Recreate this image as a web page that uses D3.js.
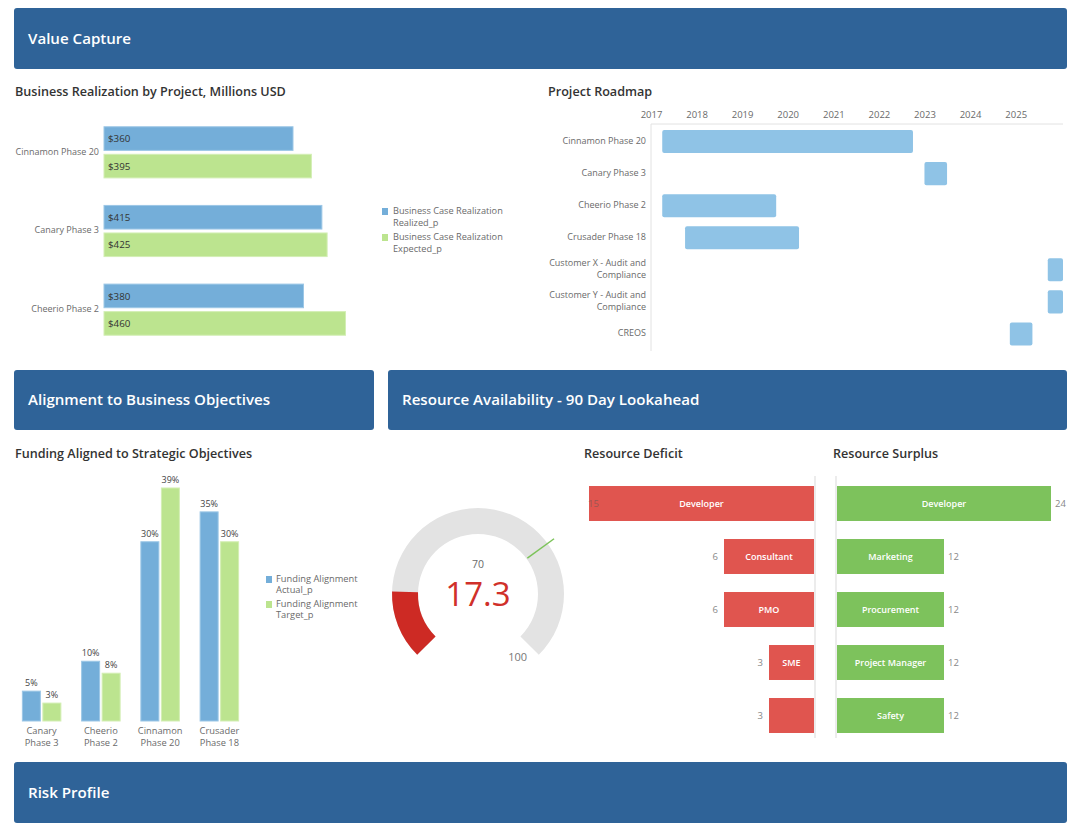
<!DOCTYPE html>
<html>
<head>
<meta charset="utf-8">
<script src="https://cdn.jsdelivr.net/npm/d3@7"></script>
<style>
  html, body { margin: 0; padding: 0; background: #ffffff; }
  svg { display: block; font-family: "Open Sans", "Noto Sans", sans-serif; }
</style>
</head>
<body>
<svg id="chart" width="1086" height="830"></svg>
<script>
// ---------- DATA ----------
const sectionTitles = ["Value Capture", "Alignment to Business Objectives", "Resource Availability - 90 Day Lookahead", "Risk Profile"];

const realizationProjects = ["Cinnamon Phase 20", "Canary Phase 3", "Cheerio Phase 2"];
const realizedValues = [360, 415, 380];
const expectedValues = [395, 425, 460];
const realizationLegend = [["Business Case Realization", "Realized_p"], ["Business Case Realization", "Expected_p"]];

const roadmapProjects = ["Cinnamon Phase 20", "Canary Phase 3", "Cheerio Phase 2", "Crusader Phase 18", "Customer X - Audit and|Compliance", "Customer Y - Audit and|Compliance", "CREOS"];
const roadmapStart = ["2017-04-01", "2023-01-01", "2017-04-01", "2017-10-01", "2025-09-15", "2025-09-15", "2024-11-15"];
const roadmapEnd   = ["2022-10-01", "2023-07-01", "2019-10-01", "2020-04-01", "2026-01-15", "2026-01-15", "2025-05-15"];
const roadmapYears = [2017, 2018, 2019, 2020, 2021, 2022, 2023, 2024, 2025];

const fundingProjects = ["Canary|Phase 3", "Cheerio|Phase 2", "Cinnamon|Phase 20", "Crusader|Phase 18"];
const fundingActual = [5, 10, 30, 35];
const fundingTarget = [3, 8, 39, 30];
const fundingLegend = [["Funding Alignment", "Actual_p"], ["Funding Alignment", "Target_p"]];

const gaugeValue = 17.3;
const gaugeTarget = 70;
const gaugeMax = 100;

const deficitRoles = ["Developer", "Consultant", "PMO", "SME", ""];
const deficitValues = [15, 6, 6, 3, 3];
const surplusRoles = ["Developer", "Marketing", "Procurement", "Project Manager", "Safety"];
const surplusValues = [24, 12, 12, 12, 12];

// ---------- STYLE ----------
const HEADER = "#2f6398";
const BLUE = "#74aed9";
const GREEN = "#bce48f";
const ROAD = "#8fc3e6";
const RED = "#e0554f";
const SGREEN = "#7dc25c";
const TITLE = "#333333";
const LABEL = "#6a6a6a";

const svg = d3.select("#chart");

// ---------- HEADERS ----------
const headers = [
  {t: sectionTitles[0], x: 14, y: 8, w: 1053, h: 61},
  {t: sectionTitles[1], x: 14, y: 370, w: 360, h: 60},
  {t: sectionTitles[2], x: 388, y: 370, w: 679, h: 60},
  {t: sectionTitles[3], x: 14, y: 762, w: 1053, h: 61}
];
const hg = svg.append("g").selectAll("g").data(headers).join("g");
hg.append("rect").attr("x", d => d.x).attr("y", d => d.y).attr("width", d => d.w).attr("height", d => d.h)
  .attr("rx", 3).attr("fill", HEADER);
hg.append("text").attr("x", d => d.x + 14).attr("y", d => d.y + d.h / 2 + 1).attr("dominant-baseline", "middle")
  .attr("fill", "#fff").attr("font-size", 15.1).attr("font-weight", 600).text(d => d.t);

function subTitle(x, y, t) {
  svg.append("text").attr("x", x).attr("y", y).attr("dominant-baseline", "middle")
    .attr("fill", TITLE).attr("font-size", 12.6).attr("font-weight", 600).text(t);
}
subTitle(15, 93, "Business Realization by Project, Millions USD");
subTitle(548, 93, "Project Roadmap");
subTitle(15, 455, "Funding Aligned to Strategic Objectives");
subTitle(584, 455, "Resource Deficit");
subTitle(833, 455, "Resource Surplus");

// ---------- CHART 1: Business Realization ----------
{
  const g = svg.append("g");
  const x = d3.scaleLinear().domain([0, 500]).range([104, 366.5]);
  const y0 = d3.scaleBand().domain(realizationProjects).range([113, 349]).paddingInner(0.35).paddingOuter(0.175);
  const y1 = d3.scaleBand().domain([0, 1]).range([0, y0.bandwidth()]).paddingInner(0.142);
  const rows = realizationProjects.map((p, i) => ({p, vals: [realizedValues[i], expectedValues[i]]}));
  const grp = g.selectAll("g.row").data(rows).join("g").attr("transform", d => `translate(0,${y0(d.p)})`);
  grp.selectAll("rect").data(d => d.vals.map((v, j) => ({v, j}))).join("rect")
    .attr("x", x(0)).attr("y", d => y1(d.j)).attr("width", d => x(d.v) - x(0)).attr("height", y1.bandwidth())
    .attr("fill", d => d.j === 0 ? BLUE : GREEN).attr("stroke", d => d.j === 0 ? "#9cc7e6" : "#d3eeb4").attr("stroke-width", 1);
  grp.selectAll("text.v").data(d => d.vals.map((v, j) => ({v, j}))).join("text").attr("class", "v")
    .attr("x", x(0) + 4).attr("y", d => y1(d.j) + y1.bandwidth() / 2 + 1).attr("dominant-baseline", "middle")
    .attr("font-size", 9.8).attr("fill", "#333").text(d => "$" + d.v);
  grp.append("text").attr("x", 99).attr("y", y0.bandwidth() / 2).attr("dominant-baseline", "middle")
    .attr("text-anchor", "end").attr("font-size", 9).attr("fill", LABEL).text(d => d.p);
  // legend
  const lg = g.selectAll("g.leg").data(realizationLegend).join("g").attr("transform", (d, i) => `translate(382,${212 + i * 26})`);
  lg.append("rect").attr("x", 0).attr("y", -4).attr("width", 6).attr("height", 7).attr("fill", (d, i) => i === 0 ? BLUE : GREEN);
  lg.append("text").attr("x", 11).attr("y", 0).attr("dominant-baseline", "middle").attr("font-size", 9.2).attr("fill", LABEL).text(d => d[0]);
  lg.append("text").attr("x", 11).attr("y", 12).attr("dominant-baseline", "middle").attr("font-size", 9.2).attr("fill", LABEL).text(d => d[1]);
}

// ---------- CHART 2: Project Roadmap ----------
{
  const g = svg.append("g");
  const parse = d3.timeParse("%Y-%m-%d");
  const x = d3.scaleTime().domain([new Date(2017, 0, 1), new Date(2026, 0, 15)]).range([651, 1063]);
  const y = d3.scaleBand().domain(roadmapProjects).range([125.5, 350]).paddingInner(0.28).paddingOuter(0.14);
  // axis lines
  g.append("line").attr("x1", 651).attr("x2", 1063).attr("y1", 124).attr("y2", 124).attr("stroke", "#e2e2e2");
  g.append("line").attr("x1", 651).attr("x2", 651).attr("y1", 124).attr("y2", 351).attr("stroke", "#e2e2e2");
  const ax = d3.axisTop(x).tickValues(roadmapYears.map(yr => new Date(yr, 0, 1))).tickSize(0).tickFormat(d3.timeFormat("%Y"));
  const axg = g.append("g").attr("transform", "translate(0,121)").call(ax);
  axg.select(".domain").remove();
  axg.selectAll("text").attr("font-size", 9.5).attr("fill", LABEL).attr("font-family", "Open Sans");
  g.selectAll("rect.bar").data(roadmapProjects).join("rect").attr("class", "bar")
    .attr("x", (d, i) => x(parse(roadmapStart[i])))
    .attr("width", (d, i) => Math.min(x(parse(roadmapEnd[i])), 1063) - x(parse(roadmapStart[i])))
    .attr("y", d => y(d)).attr("height", y.bandwidth()).attr("rx", 2).attr("fill", ROAD);
  const lt = g.selectAll("text.lab").data(roadmapProjects).join("text").attr("class", "lab")
    .attr("text-anchor", "end").attr("font-size", 9).attr("fill", LABEL);
  lt.each(function(d) {
    const parts = d.split("|");
    const cy = y(d) + y.bandwidth() / 2;
    const t = d3.select(this);
    parts.forEach((p, k) => {
      t.append("tspan").attr("x", 646).attr("y", cy + (k - (parts.length - 1) / 2) * 12).attr("dominant-baseline", "middle").text(p);
    });
  });
}

// ---------- CHART 3: Funding ----------
{
  const g = svg.append("g");
  const x0 = d3.scaleBand().domain(fundingProjects).range([12, 249]).paddingInner(0.35).paddingOuter(0.175);
  const x1 = d3.scaleBand().domain([0, 1]).range([0, x0.bandwidth()]).paddingInner(0.122);
  const y = d3.scaleLinear().domain([0, 40]).range([721, 482]);
  const rows = fundingProjects.map((p, i) => ({p, vals: [fundingActual[i], fundingTarget[i]]}));
  const grp = g.selectAll("g.col").data(rows).join("g").attr("transform", d => `translate(${x0(d.p)},0)`);
  grp.selectAll("rect").data(d => d.vals.map((v, j) => ({v, j}))).join("rect")
    .attr("x", d => x1(d.j)).attr("width", x1.bandwidth()).attr("y", d => y(d.v)).attr("height", d => y(0) - y(d.v))
    .attr("fill", d => d.j === 0 ? BLUE : GREEN).attr("stroke", d => d.j === 0 ? "#9cc7e6" : "#d3eeb4");
  grp.selectAll("text.v").data(d => d.vals.map((v, j) => ({v, j}))).join("text").attr("class", "v")
    .attr("x", d => x1(d.j) + x1.bandwidth() / 2).attr("y", d => y(d.v) - 5).attr("text-anchor", "middle")
    .attr("font-size", 9).attr("fill", "#444").text(d => d.v + "%");
  grp.each(function(d) {
    const t = d3.select(this).append("text").attr("text-anchor", "middle").attr("font-size", 9.3).attr("fill", LABEL);
    d.p.split("|").forEach((s, k) => t.append("tspan").attr("x", x0.bandwidth() / 2).attr("y", 734 + k * 12).text(s));
  });
  const lg = g.selectAll("g.leg").data(fundingLegend).join("g").attr("transform", (d, i) => `translate(266,${580 + i * 25})`);
  lg.append("rect").attr("x", 0).attr("y", -4).attr("width", 6).attr("height", 7).attr("fill", (d, i) => i === 0 ? BLUE : GREEN);
  lg.append("text").attr("x", 10).attr("y", 0).attr("dominant-baseline", "middle").attr("font-size", 9.3).attr("fill", LABEL).text(d => d[0]);
  lg.append("text").attr("x", 10).attr("y", 11).attr("dominant-baseline", "middle").attr("font-size", 9.3).attr("fill", LABEL).text(d => d[1]);
}

// ---------- GAUGE ----------
{
  const cx = 478, cy = 594, rO = 86, rI = 60;
  const a = d3.scaleLinear().domain([0, gaugeMax]).range([-0.75 * Math.PI, 0.75 * Math.PI]);
  const g = svg.append("g").attr("transform", `translate(${cx},${cy})`);
  const arc = d3.arc().innerRadius(rI).outerRadius(rO);
  g.append("path").attr("d", arc({startAngle: a(0), endAngle: a(gaugeMax)})).attr("fill", "#e3e3e3");
  g.append("path").attr("d", arc({startAngle: a(0), endAngle: a(gaugeValue)})).attr("fill", "#cd2a24");
  const ta = a(gaugeTarget);
  g.append("line").attr("x1", Math.sin(ta) * (rI + 1)).attr("y1", -Math.cos(ta) * (rI + 1))
    .attr("x2", Math.sin(ta) * (rO + 8)).attr("y2", -Math.cos(ta) * (rO + 8)).attr("stroke", "#7cc35a").attr("stroke-width", 1.5);
  g.append("text").attr("x", 0).attr("y", -29).attr("text-anchor", "middle").attr("dominant-baseline", "middle")
    .attr("font-size", 10.5).attr("fill", LABEL).text(gaugeTarget);
  g.append("text").attr("x", 0).attr("y", 3).attr("text-anchor", "middle").attr("dominant-baseline", "middle")
    .attr("font-size", 33).attr("fill", "#d0302a").text(gaugeValue);
  const ea = a(gaugeMax);
  g.append("text").attr("x", Math.sin(ea) * (rI + 6) - 7).attr("y", -Math.cos(ea) * (rI + 6) + 17).attr("text-anchor", "middle")
    .attr("dominant-baseline", "middle").attr("font-size", 11).attr("fill", "#777").text(gaugeMax);
}

// ---------- RESOURCE DEFICIT ----------
{
  const g = svg.append("g");
  const x = d3.scaleLinear().domain([0, 15]).range([814, 589]);
  const y = d3.scaleBand().domain(d3.range(deficitValues.length)).range([477, 742]).paddingInner(0.34).paddingOuter(0.17);
  g.append("line").attr("x1", 815).attr("x2", 815).attr("y1", 476).attr("y2", 738).attr("stroke", "#e6e6e6").attr("stroke-width", 1.5);
  g.selectAll("rect").data(deficitValues).join("rect")
    .attr("x", d => x(d)).attr("width", d => x(0) - x(d)).attr("y", (d, i) => y(i)).attr("height", y.bandwidth()).attr("fill", RED);
  g.selectAll("text.n").data(deficitRoles).join("text").attr("class", "n")
    .attr("x", (d, i) => (x(deficitValues[i]) + x(0)) / 2).attr("y", (d, i) => y(i) + y.bandwidth() / 2 + 1)
    .attr("text-anchor", "middle").attr("dominant-baseline", "middle").attr("font-size", 9).attr("font-weight", 600).attr("fill", "#fff").text(d => d);
  g.selectAll("text.v").data(deficitValues).join("text").attr("class", "v")
    .attr("x", d => x(d) - 6 < 600 ? 588 : x(d) - 6)
    .attr("text-anchor", d => x(d) - 6 < 600 ? "start" : "end")
    .attr("y", (d, i) => y(i) + y.bandwidth() / 2 + 1).attr("dominant-baseline", "middle")
    .attr("font-size", 9.5).attr("fill", d => x(d) - 6 < 600 ? "#9a5552" : "#888").text(d => d);
}

// ---------- RESOURCE SURPLUS ----------
{
  const g = svg.append("g");
  const x = d3.scaleLinear().domain([0, 24]).range([837, 1051]);
  const y = d3.scaleBand().domain(d3.range(surplusValues.length)).range([477, 742]).paddingInner(0.34).paddingOuter(0.17);
  g.append("line").attr("x1", 836).attr("x2", 836).attr("y1", 476).attr("y2", 738).attr("stroke", "#e6e6e6").attr("stroke-width", 1.5);
  g.selectAll("rect").data(surplusValues).join("rect")
    .attr("x", x(0)).attr("width", d => x(d) - x(0)).attr("y", (d, i) => y(i)).attr("height", y.bandwidth()).attr("fill", SGREEN);
  g.selectAll("text.n").data(surplusRoles).join("text").attr("class", "n")
    .attr("x", (d, i) => (x(surplusValues[i]) + x(0)) / 2).attr("y", (d, i) => y(i) + y.bandwidth() / 2 + 1)
    .attr("text-anchor", "middle").attr("dominant-baseline", "middle").attr("font-size", 9).attr("font-weight", 600).attr("fill", "#fff").text(d => d);
  g.selectAll("text.v").data(surplusValues).join("text").attr("class", "v")
    .attr("x", d => x(d) + 4).attr("y", (d, i) => y(i) + y.bandwidth() / 2 + 1).attr("dominant-baseline", "middle")
    .attr("font-size", 9.5).attr("fill", "#888").text(d => d);
}
</script>
</body>
</html>
